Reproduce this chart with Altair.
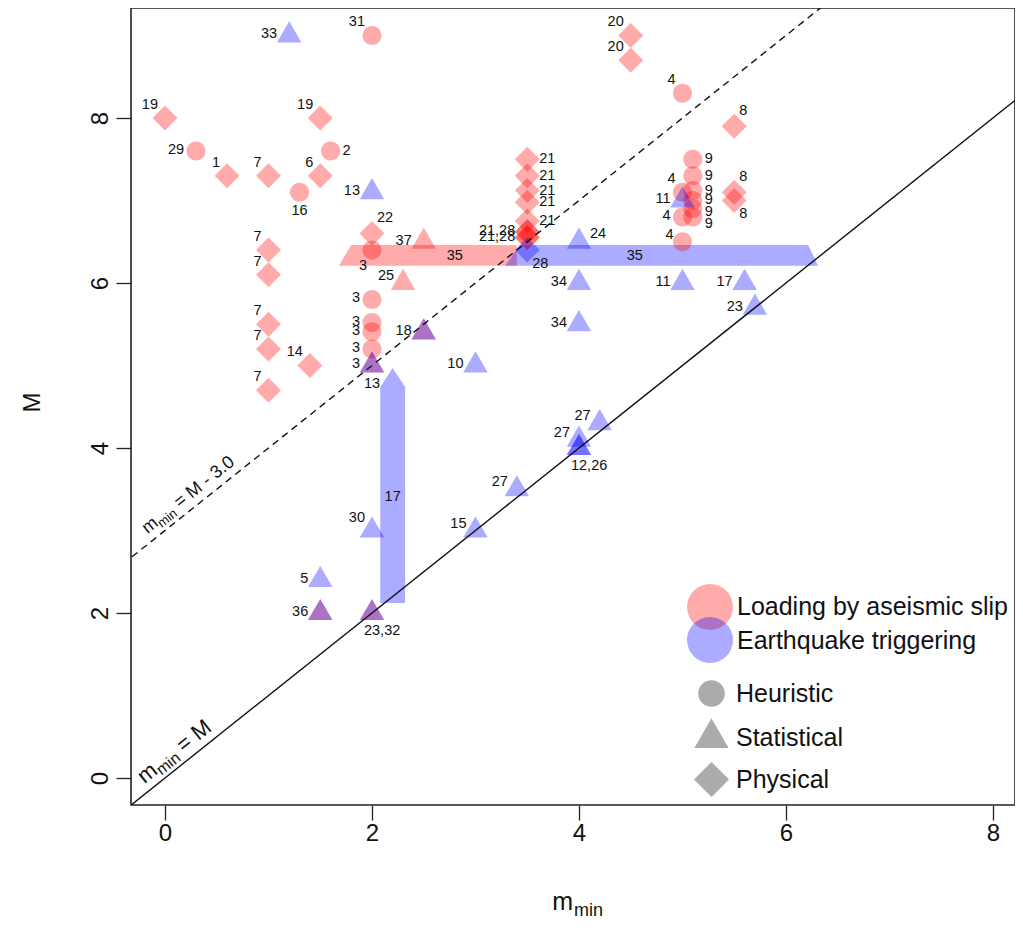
import altair as alt
import pandas as pd

FONT = "Liberation Sans"
LOAD = "Loading by aseismic slip"
TRIG = "Earthquake triggering"
HEUR, STAT, PHYS = "Heuristic", "Statistical", "Physical"

# ---------------- data ----------------
# red = loading by aseismic slip
rc_x = [2.0, 0.3, 1.6, 1.3, 2.0, 2.0, 2.0, 2.0, 2.0, 5.0, 5.1, 5.1, 5.1, 5.1, 5.1, 5.1, 5.0, 5.0, 5.0]
rc_y = [9.0, 7.6, 7.6, 7.1, 6.4, 5.8, 5.52, 5.41, 5.2, 8.3, 7.5, 7.3, 7.12, 7.0, 6.9, 6.8, 7.1, 6.8, 6.5]
rc_lab = ["31", "29", "2", "16", "3", "3", "3", "3", "3", "4", "9", "9", "9", "9", "9", "9", "4", "4", "4"]
rc_side = ["TL", "L", "R", "B", "BL", "L", "L", "L", "L", "TL", "R", "R", "R", "R", "RD", "RD2", "TL", "L", "UL"]

rt_x = [2.3, 2.5, 2.0, 2.5, 1.5, 2.0]
rt_y = [6.0, 6.5, 5.0, 5.4, 2.0, 2.0]
rt_lab = ["25", "37", "3", "18", "36", "23,32"]
rt_side = ["UL", "L", "L", "L", "L", "BR"]

rd_x = [0.0, 1.5, 0.6, 1.0, 1.5, 1.0, 1.0, 1.0, 1.0, 1.0, 1.4, 2.0,
        3.5, 3.5, 3.5, 3.5, 3.5, 3.5, 3.5, 3.5, 3.5, 4.5, 4.5, 5.5, 5.5, 5.5]
rd_y = [8.0, 8.0, 7.3, 7.3, 7.3, 6.4, 6.1, 5.5, 5.2, 4.7, 5.0, 6.6,
        7.5, 7.3, 7.12, 6.98, 6.75, 6.62, 6.62, 6.55, 6.55, 9.0, 8.7, 7.9, 7.1, 7.0]
rd_lab = ["19", "19", "1", "7", "6", "7", "7", "7", "7", "7", "14", "22",
          "21", "21", "21", "21", "21", "21,28", "", "21,28", "", "20", "20", "8", "8", "8"]
rd_side = ["TL", "TL", "TL", "TL", "TL", "TL", "TL", "TL", "TL", "TL", "TL", "NE",
           "R", "R", "R", "R", "R", "L", "", "L", "", "TL", "TL", "NE", "NE", "SE"]

# blue = earthquake triggering
bt_x = [1.2, 2.0, 2.0, 2.5, 4.0, 4.0, 4.0, 5.0, 5.0, 5.6, 5.7, 3.0, 4.2, 4.0, 4.0, 4.0, 3.4, 3.0, 2.0, 1.5, 1.5, 2.0]
bt_y = [9.0, 7.1, 5.0, 5.4, 6.5, 6.0, 5.5, 7.0, 6.0, 6.0, 5.7, 5.0, 4.3, 4.1, 4.0, 4.0, 3.5, 3.0, 3.0, 2.4, 2.0, 2.0]
bt_lab = ["33", "13", "13", "", "24", "34", "34", "11", "11", "17", "23", "10", "27", "27", "12,26", "", "27", "15", "30", "5", "", ""]
bt_side = ["L", "L", "B", "", "UR", "L", "L", "L", "L", "L", "L", "L", "UL", "UL", "BR", "", "UL", "UL", "TL", "L", "", ""]

bd_x = [3.5]
bd_y = [6.4]
bd_lab = ["28"]
bd_side = ["SE"]

# range bars (study 35 horizontal, study 17 vertical)
bar_x = [1.68, 1.80, 3.40, 3.285, 3.43, 6.215, 6.31]
bar_lo = [6.21, 6.21, 6.21, 6.21, 6.21, 6.21, 6.21]
bar_hi = [6.21, 6.46, 6.46, 6.21, 6.46, 6.46, 6.21]
bar_mech = [LOAD, LOAD, LOAD, TRIG, TRIG, TRIG, TRIG]

vbar_y = [2.12, 4.74, 4.97]
vbar_lo = [2.08, 2.08, 2.2]
vbar_hi = [2.32, 2.32, 2.2]
vbar_mech = [TRIG, TRIG, TRIG]

barlab_x = [2.8, 4.54, 2.2]
barlab_y = [6.33, 6.33, 3.41]
barlab_t = ["35", "35", "17"]

# reference lines m_min = M and m_min = M - 3.0
solid_x = [-0.5, 8.5]
solid_y = [-0.5, 8.5]
dash_x = [-0.5, 6.5]
dash_y = [2.5, 9.5]

# anchors of the line annotations (on the lines)
ann_dash = pd.DataFrame({"ax": [-0.12], "ay": [2.88]})
ann_solid = pd.DataFrame({"ax": [-0.15], "ay": [-0.15]})

legend_mech = [LOAD, TRIG]


def block(xs, ys, labs, sides, mech, method):
    return pd.DataFrame({"mmin": xs, "M": ys, "label": labs, "side": sides,
                         "mech": [mech] * len(xs), "method": [method] * len(xs)})


pts = pd.concat([
    block(rc_x, rc_y, rc_lab, rc_side, LOAD, HEUR),
    block(rt_x, rt_y, rt_lab, rt_side, LOAD, STAT),
    block(rd_x, rd_y, rd_lab, rd_side, LOAD, PHYS),
    block(bt_x, bt_y, bt_lab, bt_side, TRIG, STAT),
    block(bd_x, bd_y, bd_lab, bd_side, TRIG, PHYS),
], ignore_index=True)

bars = pd.DataFrame({"bx": bar_x, "blo": bar_lo, "bhi": bar_hi, "mech": bar_mech})
vbar = pd.DataFrame({"vy": vbar_y, "vlo": vbar_lo, "vhi": vbar_hi, "mech": vbar_mech})
barlabs = pd.DataFrame({"x": barlab_x, "y": barlab_y, "t": barlab_t})
solid = pd.DataFrame({"x": solid_x, "y": solid_y})
dashed = pd.DataFrame({"x": dash_x, "y": dash_y})
legdf = pd.DataFrame({"mech": legend_mech})

# ---------------- scales / guides ----------------
x_scale = alt.Scale(domain=[-0.3285, 8.213], nice=False, zero=False)
y_scale = alt.Scale(domain=[-0.327, 9.333], nice=False, zero=False)

CIRCLE = "M-0.76,0A0.76,0.76,0,1,0,0.76,0A0.76,0.76,0,1,0,-0.76,0Z"
TRIANGLE = "M0,-1.13L0.979,0.565L-0.979,0.565Z"

color_scale = alt.Scale(domain=[LOAD, TRIG], range=["#FF0000", "#0000FF"])
shape_scale = alt.Scale(domain=[HEUR, STAT, PHYS], range=[CIRCLE, TRIANGLE, "diamond"])

x_axis = alt.Axis(values=[0, 2, 4, 6, 8], title=None, labelPadding=1,
                  labelFlush=False, labelOverlap=False)
y_axis = alt.Axis(values=[0, 2, 4, 6, 8], title="M", labelAngle=270, labelAlign="center",
                  labelBaseline="alphabetic", labelPadding=9, labelFlush=False,
                  labelOverlap=False, titleX=-99, titleY=394, titleAngle=270,
                  titleAlign="center", titleBaseline="middle")

shape_legend = alt.Legend(title=None, orient="none", legendX=563, legendY=668,
                          symbolSize=1225, symbolFillColor="#ABABAB",
                          symbolStrokeColor="#ABABAB", symbolStrokeWidth=0,
                          symbolOpacity=1, labelFontSize=25, labelFont=FONT,
                          labelColor="#111111", rowPadding=10.5, padding=0, labelOffset=7,
                          labelLimit=400)

X = alt.X("mmin:Q", scale=x_scale, axis=x_axis)
Y = alt.Y("M:Q", scale=y_scale, axis=y_axis)
C = alt.Color("mech:N", scale=color_scale, legend=None)

# ---------------- layers ----------------
hbars = alt.Chart(bars).mark_area(opacity=0.33, orient="vertical").encode(
    x=alt.X("bx:Q", scale=x_scale, axis=x_axis),
    y=alt.Y("blo:Q", scale=y_scale, axis=y_axis),
    y2="bhi:Q",
    color=C,
)
vbars = alt.Chart(vbar).mark_area(opacity=0.33, orient="horizontal").encode(
    y=alt.Y("vy:Q", scale=y_scale, axis=y_axis),
    x=alt.X("vlo:Q", scale=x_scale, axis=x_axis),
    x2="vhi:Q",
    color=C,
)

points = alt.Chart(pts).mark_point(filled=True, opacity=0.33, size=625, strokeWidth=0).encode(
    x=X, y=Y, color=C,
    shape=alt.Shape("method:N", scale=shape_scale, legend=shape_legend),
)

solid_line = alt.Chart(solid).mark_line(color="#111111", strokeWidth=1.4, clip=True).encode(
    x=alt.X("x:Q", scale=x_scale, axis=x_axis), y=alt.Y("y:Q", scale=y_scale, axis=y_axis))
dashed_line = alt.Chart(dashed).mark_line(color="#111111", strokeWidth=1.4, strokeDash=[7, 5],
                                          clip=True).encode(
    x=alt.X("x:Q", scale=x_scale, axis=x_axis), y=alt.Y("y:Q", scale=y_scale, axis=y_axis))

SIDES = {
    "L": ("right", -12, -1),
    "UL": ("right", -9, -7),
    "TL": ("right", -7, -13),
    "R": ("left", 12, 0),
    "RD": ("left", 12, 3),
    "RD2": ("left", 12, 7),
    "UR": ("left", 11, -8),
    "NE": ("left", 5, -15),
    "SE": ("left", 5, 14),
    "B": ("center", 0, 19),
    "BR": ("left", -8, 18),
    "BL": ("center", -9, 16),
}
label_layers = []
for side, (al, dx, dy) in SIDES.items():
    label_layers.append(
        alt.Chart(pts).transform_filter(alt.datum.side == side).mark_text(
            align=al, baseline="middle", dx=dx, dy=dy, fontSize=14.5, font=FONT, color="#111111"
        ).encode(x=X, y=Y, text="label:N")
    )

bar_text = alt.Chart(barlabs).mark_text(align="center", baseline="middle", fontSize=14.5,
                                        font=FONT, color="#111111").encode(
    x=alt.X("x:Q", scale=x_scale, axis=x_axis), y=alt.Y("y:Q", scale=y_scale, axis=y_axis), text="t:N")

ANG = 321.44


def rotated_label(df, pieces):
    out = []
    for txt, size, dx, dy in pieces:
        out.append(alt.Chart(df).mark_text(align="left", baseline="alphabetic", angle=ANG,
                                           fontSize=size, font=FONT, color="#111111",
                                           dx=dx, dy=dy, text=txt).encode(
            x=alt.X("ax:Q", scale=x_scale, axis=x_axis),
            y=alt.Y("ay:Q", scale=y_scale, axis=y_axis)))
    return out


dash_lab = rotated_label(ann_dash, [("m", 18, 0, -8), ("min", 13, 15, -4), ("= M - 3.0", 18, 41, -8)])
solid_lab = rotated_label(ann_solid, [("m", 22, 0, -8), ("min", 16, 18.5, -4), ("= M", 22, 50, -8)])

# colour key (overlapping discs as in the original)
leg_layers = []
for i, (cy, ty) in enumerate([(599, 599), (632, 633)]):
    sub = legdf.iloc[[i]]
    leg_layers.append(alt.Chart(sub).mark_point(filled=True, shape="circle", size=2116,
                                                opacity=0.33, strokeWidth=0).encode(
        x=alt.value(579), y=alt.value(cy), color=C))
    leg_layers.append(alt.Chart(sub).mark_text(align="left", baseline="middle", fontSize=25,
                                               font=FONT, color="#111111").encode(
        x=alt.value(606), y=alt.value(ty), text="mech:N"))

one = pd.DataFrame({"k": [0]})
xt_m = alt.Chart(one).mark_text(align="right", baseline="alphabetic", fontSize=25, font=FONT,
                                color="#111111", text="m").encode(x=alt.value(442), y=alt.value(902))
xt_min = alt.Chart(one).mark_text(align="left", baseline="alphabetic", fontSize=18, font=FONT,
                                  color="#111111", text="min").encode(x=alt.value(443), y=alt.value(908))

chart = alt.layer(
    hbars, vbars, points, solid_line, dashed_line, *label_layers, bar_text,
    *dash_lab, *solid_lab, *leg_layers, xt_m, xt_min
).properties(
    width=884, height=797,
    padding={"left": 123, "top": 0, "right": 0, "bottom": 118},
    autosize=alt.AutoSizeParams(type="none"),
).configure_view(
    stroke="#222222", strokeWidth=1.6
).configure_axis(
    domain=False, grid=False, tickSize=15, tickColor="#222222", tickWidth=1.3,
    labelFont=FONT, labelFontSize=24, labelColor="#111111",
    titleFont=FONT, titleFontSize=24, titleFontWeight="normal", titleColor="#111111",
)

chart.save("out.html", embed_options={"renderer": "svg", "actions": False})
